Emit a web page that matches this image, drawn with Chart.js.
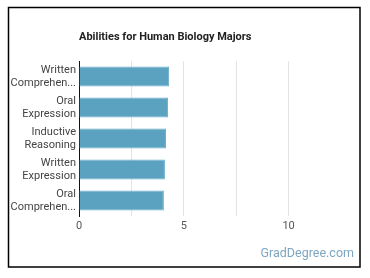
<!DOCTYPE html>
<html>
<head>
<meta charset="utf-8">
<script src="https://cdn.jsdelivr.net/npm/chart.js@4"></script>
<style>
  html, body { margin:0; padding:0; background:#fff; }
  #wrap { width:370px; height:278px; }
</style>
</head>
<body>
<div id="wrap"><canvas id="chart" width="370" height="278"></canvas></div>
<script>
// données
const categories = [["Written","Comprehen..."],["Oral","Expression"],["Inductive","Reasoning"],["Written","Expression"],["Oral","Comprehen..."]];
const values = [4.3, 4.25, 4.15, 4.1, 4.05];
const tickLabels = [0, 5, 10];
const titleText = "Abilities for Human Biology Majors";
const watermark = "GradDegree.com";

// cadre, titre, filigrane
const decor = {
    id:'decor',
    afterDraw(chart){
        const ctx = chart.ctx;
        ctx.save();
        ctx.strokeStyle = '#000';
        ctx.lineWidth = 1.5;
        ctx.strokeRect(8.5, 7.5, 351.5, 259.5);
        ctx.fillStyle = '#222';
        ctx.font = 'bold 11px Roboto, "Noto Sans", sans-serif';
        ctx.textBaseline = 'middle';
        ctx.textAlign = 'left';
        ctx.fillText(titleText, chart.chartArea.left, 37);
        ctx.fillStyle = '#7ea6c0';
        ctx.font = '12.5px Roboto, "Noto Sans", sans-serif';
        ctx.textAlign = 'right';
        ctx.fillText(watermark, 354, 254);
        ctx.restore();
    }
};

new Chart(document.getElementById("chart").getContext("2d"), {
    type:'bar',
    data:{
        labels: categories,
        datasets:[{
            data: values,
            backgroundColor:'#5ba2c0',
            borderColor:'#6aaecb',
            borderWidth:1,
            barPercentage:0.65,
            categoryPercentage:1
        }]
    },
    options:{
        indexAxis:'y',
        responsive:false,
        animation:false,
        layout:{padding:{top:61, right:29, left:0, bottom:0}},
        plugins:{legend:{display:false}, title:{display:false}, tooltip:{enabled:false}},
        scales:{
            x:{
                min:0, max:12.5,
                ticks:{
                    stepSize:2.5,
                    color:'#555',
                    font:{family:'Roboto, "Noto Sans", sans-serif', size:11},
                    padding:4,
                    callback:(v)=> tickLabels.includes(v) ? v : ''
                },
                grid:{
                    color:(c)=> c.tick && c.tick.value === 12.5 ? 'rgba(0,0,0,0)' : '#e4e4e4',
                    drawTicks:false
                },
                border:{display:false},
                afterFit:(s)=>{ s.height = 62; }
            },
            y:{
                ticks:{
                    color:'#444',
                    font:{family:'Roboto, "Noto Sans", sans-serif', size:11},
                    padding:3
                },
                grid:{display:false, drawTicks:false},
                border:{display:true, color:'#111', width:1},
                afterFit:(s)=>{ s.width = 79; }
            }
        }
    },
    plugins:[decor]
});
</script>
</body>
</html>
